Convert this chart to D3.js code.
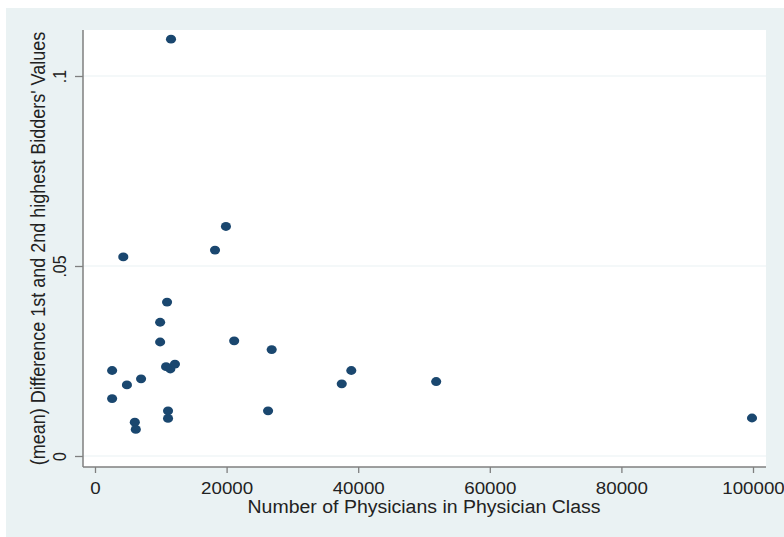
<!DOCTYPE html>
<html>
<head>
<meta charset="utf-8">
<script src="https://cdn.jsdelivr.net/npm/d3@7"></script>
<style>
  body { margin: 0; background: #fff; }
  text { font-family: "Liberation Sans", Arial, sans-serif; fill: #222; }
</style>
</head>
<body>
<div id="chart"></div>
<script>
// physicians in class, mean difference of top two bids
var physicians = [11550, 19900, 18240, 4300, 10950, 9900, 9900, 21150, 26850, 2600,
    10800, 11450, 12150, 7000, 4850, 2600, 38950, 37500, 51850, 26300,
    11100, 11100, 6050, 6200, 99850];
var bidDiff = [0.1097, 0.0604, 0.0542, 0.0524, 0.0405, 0.0352, 0.0300, 0.0303, 0.0280, 0.0225,
    0.0235, 0.0229, 0.0242, 0.0203, 0.0187, 0.0151, 0.0225, 0.0190, 0.0196, 0.0119,
    0.0119, 0.0099, 0.0089, 0.0070, 0.0100];
var xTicks = [0, 20000, 40000, 60000, 80000, 100000];
var yTicks = [0, 0.05, 0.1];
var yTickLabels = ["0", ".05", ".1"];

var dataset = physicians.map(function (p, i) {
    return { x: p, y: bidDiff[i] };
});

let width = 784;
let height = 537;
let plotLeft = 83, plotRight = 766, plotTop = 30, plotBottom = 467;
let stretch = 1.15; // the original graph is a bit wider than tall

var svg = d3.select("#chart")
    .append("svg")
    .attr("width", width)
    .attr("height", height);

// stata style backdrop
svg.append("rect")
    .attr("x", 6).attr("y", 8)
    .attr("width", width - 6).attr("height", height - 8)
    .attr("fill", "#eaf2f3");

svg.append("rect")
    .attr("x", plotLeft).attr("y", plotTop)
    .attr("width", plotRight - plotLeft).attr("height", plotBottom - plotTop)
    .attr("fill", "#ffffff");

var xScale = d3.scaleLinear()
    .domain([0, 100000])
    .range([95, 753]);

var yScale = d3.scaleLinear()
    .domain([0, 0.1])
    .range([456, 76]);

// grid lines
svg.selectAll(".grid")
    .data(yTicks)
    .enter()
    .append("line")
    .attr("class", "grid")
    .attr("x1", plotLeft)
    .attr("x2", plotRight)
    .attr("y1", function (d) { return yScale(d); })
    .attr("y2", function (d) { return yScale(d); })
    .attr("stroke", "#eaf2f3")
    .attr("stroke-width", 1.2);

// x axis
let xAxis = d3.axisBottom(xScale)
    .tickValues(xTicks)
    .tickFormat(d3.format("d"))
    .tickSize(6)
    .tickPadding(9);

var gx = svg.append("g")
    .attr("class", "axis")
    .attr("transform", "translate(0," + plotBottom + ")")
    .call(xAxis);
gx.select(".domain").remove();
gx.append("line")
    .attr("x1", plotLeft).attr("x2", plotRight)
    .attr("stroke", "#7f7f7f").attr("stroke-width", 1.5);
gx.selectAll(".tick line").attr("stroke", "#7f7f7f").attr("stroke-width", 1.3);
gx.selectAll(".tick text")
    .style("font-size", "16.3px")
    .style("font-family", "'Liberation Sans', Arial, sans-serif")
    .attr("fill", "#222")
    .each(function () {
        var w = this.getComputedTextLength();
        d3.select(this)
            .attr("textLength", w * stretch)
            .attr("lengthAdjust", "spacingAndGlyphs");
    });

// y axis
let yAxis = d3.axisLeft(yScale)
    .tickValues(yTicks)
    .tickFormat(function (d, i) { return yTickLabels[i]; })
    .tickSize(8)
    .tickPadding(0);

var gy = svg.append("g")
    .attr("class", "axis")
    .attr("transform", "translate(" + plotLeft + ",0)")
    .call(yAxis);
gy.select(".domain").remove();
gy.append("line")
    .attr("y1", plotTop).attr("y2", plotBottom)
    .attr("stroke", "#7f7f7f").attr("stroke-width", 1.5);
gy.selectAll(".tick line").attr("stroke", "#7f7f7f").attr("stroke-width", 1.3);
gy.selectAll(".tick text")
    .attr("x", 0)
    .attr("dy", 0)
    .attr("transform", "translate(-17,0) scale(" + stretch + ",1) rotate(-90)")
    .style("text-anchor", "middle")
    .style("font-size", "16px")
    .style("font-family", "'Liberation Sans', Arial, sans-serif")
    .attr("fill", "#222");

// points
svg.selectAll("ellipse")
    .data(dataset)
    .enter()
    .append("ellipse")
    .attr("class", "dot")
    .attr("cx", function (d) { return xScale(d.x); })
    .attr("cy", function (d) { return yScale(d.y); })
    .attr("rx", 4.4 * stretch)
    .attr("ry", 4.4)
    .attr("fill", "#1a476f");

// labels
var xLabel = svg.append("text")
    .attr("class", "label")
    .attr("transform", "translate(" + 424 + "," + 512.5 + ")")
    .style("text-anchor", "middle")
    .style("font-size", "17.6px")
    .text("Number of Physicians in Physician Class");
xLabel.attr("textLength", 353).attr("lengthAdjust", "spacingAndGlyphs");

svg.append("text")
    .attr("class", "label")
    .attr("transform", "translate(45," + 248.5 + ") scale(" + stretch + ",1) rotate(-90)")
    .style("text-anchor", "middle")
    .style("font-size", "18px")
    .text("(mean) Difference 1st and 2nd highest Bidders' Values");
</script>
</body>
</html>
